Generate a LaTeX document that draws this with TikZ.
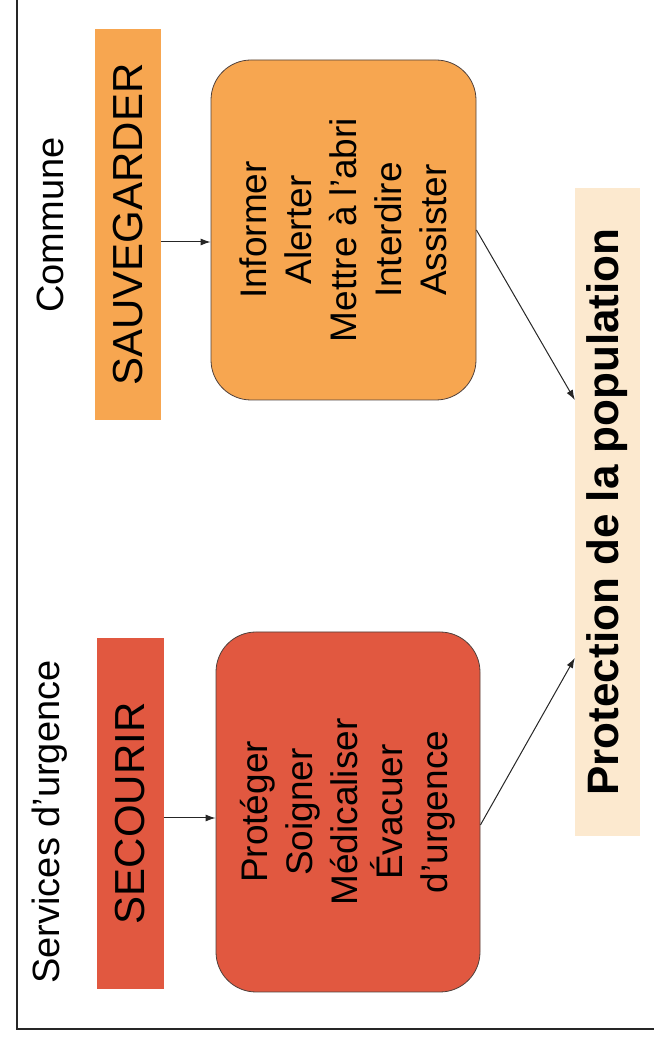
\documentclass[tikz,border=0pt]{standalone}
\usepackage{fontspec}
\setmainfont{Liberation Sans}
\usetikzlibrary{arrows.meta}
\definecolor{orangeSauv}{RGB}{247,166,80}
\definecolor{rougeSec}{RGB}{225,88,64}
\definecolor{beigeProt}{RGB}{252,233,207}
\definecolor{bordBoite}{RGB}{80,65,60}

\begin{document}
\begin{tikzpicture}[x=1pt, y=1pt,
    titre/.style={rotate=90, font=\fontsize{38}{44}\selectfont},
    bandeau/.style={rotate=90, inner sep=0pt, font=\fontsize{42}{48}\selectfont},
    boite/.style={rotate=90, draw=bordBoite, line width=0.8pt, rounded corners=40pt, inner sep=0pt, align=center, font=\fontsize{37}{45}\selectfont},
    fleche/.style={-{Latex[length=10pt,width=7pt]}, line width=1pt, draw=black!85}]
    \useasboundingbox (0,0) rectangle (654,1045);
    \draw[line width=1.5pt, black!85] (17,1045) -- (17,16) -- (654,16);

    \node (commune) [titre] at (50,820) {Commune};
    \node (services) [titre] at (50,223) {Services d'urgence};

    \node (sauv) [bandeau, fill=orangeSauv, minimum width=391pt, minimum height=66pt] at (128,820.5) {SAUVEGARDER};
    \node (secour) [bandeau, fill=rougeSec, minimum width=351pt, minimum height=67pt] at (130.5,231.5) {SECOURIR};

    \node (actSauv) [boite, fill=orangeSauv, minimum width=340pt, minimum height=265pt] at (343.5,815) {Informer\\Alerter\\Mettre à l'abri\\Interdire\\Assister};
    \node (actSec) [boite, fill=rougeSec, minimum width=360pt, minimum height=264pt] at (348,233) {Protéger\\Soigner\\Médicaliser\\Évacuer\\d'urgence};

    \node (prot) [rotate=90, fill=beigeProt, minimum width=648pt, minimum height=65pt, font=\bfseries\fontsize{44}{50}\selectfont] at (607.5,533) {Protection de la population};

    \draw[fleche] ([yshift=-17.5pt]sauv.south) -- ([yshift=-12pt]actSauv.north);
    \draw[fleche] ([yshift=-4.5pt]secour.south) -- ([yshift=-6pt]actSec.north);
    \draw[fleche] (actSauv.south) -- ([yshift=112pt]prot.north);
    \draw[fleche] ([yshift=-13pt]actSec.south) -- ([yshift=-146pt]prot.north);
\end{tikzpicture}
\end{document}
